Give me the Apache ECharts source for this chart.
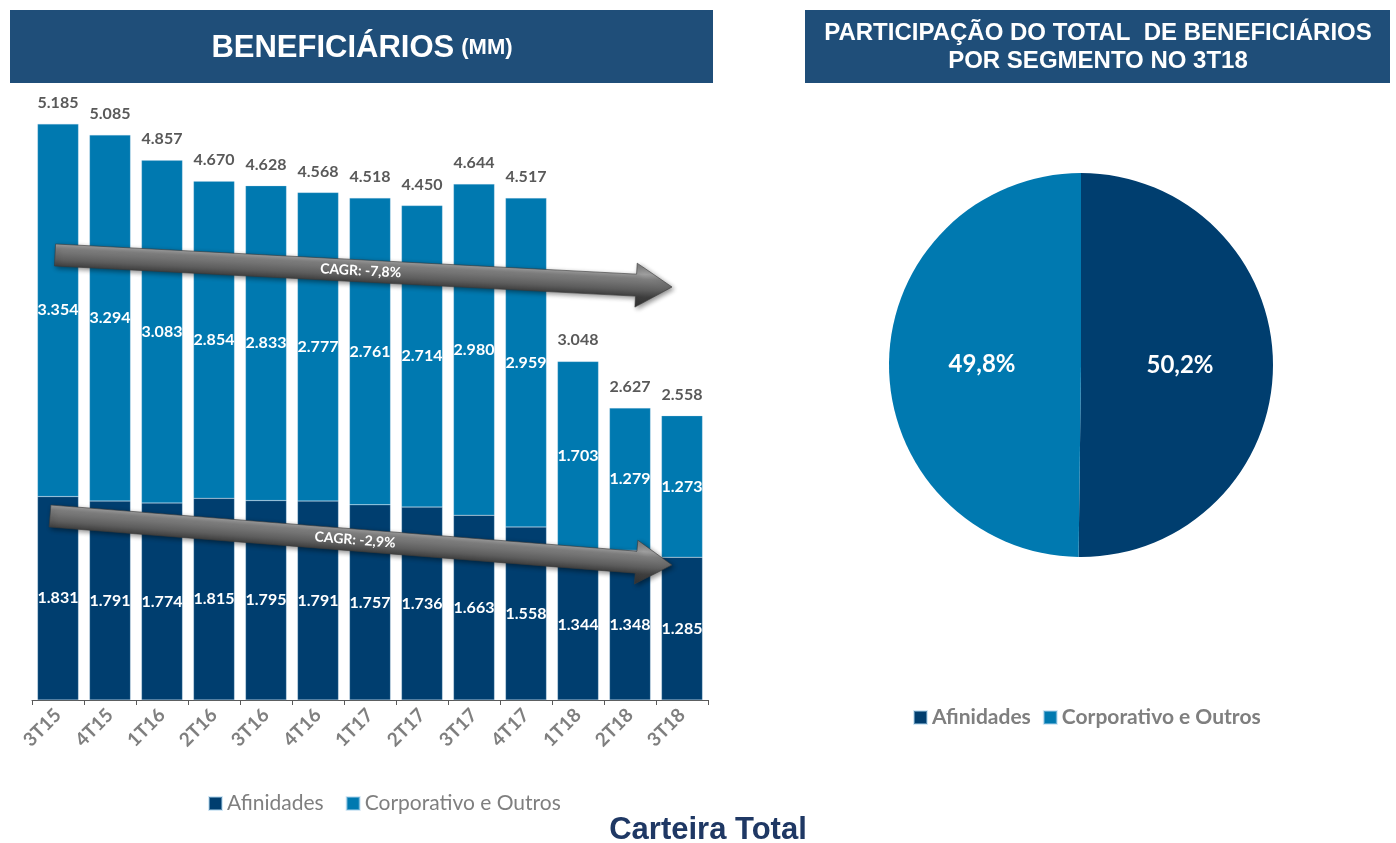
<!DOCTYPE html>
<html>
<head>
<meta charset="utf-8">
<script src="https://cdn.jsdelivr.net/npm/echarts@6/dist/echarts.min.js"></script>
<style>
html,body{margin:0;padding:0;background:#fff;}
#c{width:1396px;height:843px;}
</style>
</head>
<body>
<div id="c"></div>
<script>
const categories = ['3T15','4T15','1T16','2T16','3T16','4T16','1T17','2T17','3T17','4T17','1T18','2T18','3T18'];
const afinidades = [1.831,1.791,1.774,1.815,1.795,1.791,1.757,1.736,1.663,1.558,1.344,1.348,1.285];
const corporativo = [3.354,3.294,3.083,2.854,2.833,2.777,2.761,2.714,2.980,2.959,1.703,1.279,1.273];
const totals = [5.185,5.085,4.857,4.670,4.628,4.568,4.518,4.450,4.644,4.517,3.048,2.627,2.558];
const seriesNames = ['Afinidades','Corporativo e Outros'];
const pieShares = [50.2, 49.8];
const cagrLabels = ['CAGR: -7,8%','CAGR: -2,9%'];

const C_AF = '#003E6F';
const C_CO = '#0079B0';
const HEADER = '#1F4E79';
const FONT = 'Lato, "Open Sans", sans-serif';

const chart = echarts.init(document.getElementById('c'));

function arrow(x, y, len, ang, text) {
  const t = 11, hw = 22, hl = 36;
  const grad = new echarts.graphic.LinearGradient(0, 0, 0, 1, [
    {offset: 0, color: '#7a7a7a'},
    {offset: 0.25, color: '#a0a0a0'},
    {offset: 0.36, color: '#7e7e7e'},
    {offset: 0.6, color: '#5e5e5e'},
    {offset: 0.76, color: '#3e3e3e'},
    {offset: 1, color: '#333333'}
  ]);
  return {
    type: 'group', x: x, y: y, rotation: -ang, z: 100,
    children: [
      {type: 'polygon', z: 100,
       shape: {points: [[0,-t],[len-hl,-t],[len-hl,-hw],[len,0],[len-hl,hw],[len-hl,t],[0,t]]},
       style: {fill: grad, stroke: '#3a3a3a', lineWidth: 0.6,
               shadowBlur: 5, shadowColor: 'rgba(0,0,0,0.45)', shadowOffsetX: 2, shadowOffsetY: 2}},
      {type: 'text', x: 306, y: 0, z: 101,
       style: {text: text, fill: '#ffffff', font: 'bold 14px ' + FONT, align: 'center', verticalAlign: 'middle'}}
    ]
  };
}

const ax = (x1,y1,x2,y2) => [x1, y1, Math.hypot(x2-x1, y2-y1), Math.atan2(y2-y1, x2-x1)];
const a1 = ax(55,255,672,287);
const a2 = ax(50,516,672,565);

const option = {
  animation: false,
  legend: [
    {data: seriesNames, left: 203, top: 788, itemWidth: 13, itemHeight: 13, itemGap: 22,
     icon: 'rect', textStyle: {color: '#7f7f7f', fontSize: 21, fontFamily: FONT}},
    {data: seriesNames, left: 908, top: 702, itemWidth: 13, itemHeight: 13, itemGap: 12,
     icon: 'rect', textStyle: {color: '#7f7f7f', fontSize: 21, fontWeight: 'bold', fontFamily: FONT}}
  ],
  grid: {left: 32, right: 688, top: 100, bottom: 143, containLabel: false},
  xAxis: {
    type: 'category', data: categories,
    axisLine: {lineStyle: {color: '#595959', width: 1}},
    axisTick: {show: true, length: 5, lineStyle: {color: '#595959'}},
    axisLabel: {rotate: 45, color: '#7f7f7f', fontSize: 19, fontWeight: 'bold', fontFamily: FONT, margin: 12, interval: 0}
  },
  yAxis: {type: 'value', min: 0, max: 5.4, show: false, splitLine: {show: false}},
  series: [
    {name: seriesNames[0], type: 'bar', stack: 'a', data: afinidades, barWidth: 41,
     itemStyle: {color: C_AF, borderColor: 'rgba(170,210,235,0.5)', borderWidth: 0.5},
     label: {show: true, position: 'inside', color: '#fff', fontSize: 16, fontWeight: 'bold', fontFamily: FONT,
             formatter: p => p.value.toFixed(3)}},
    {name: seriesNames[1], type: 'bar', stack: 'a', data: corporativo, barWidth: 41,
     itemStyle: {color: C_CO, borderColor: 'rgba(170,210,235,0.5)', borderWidth: 0.5},
     label: {show: true, position: 'inside', color: '#fff', fontSize: 16, fontWeight: 'bold', fontFamily: FONT,
             formatter: p => p.value.toFixed(3)}},
    {name: 'Total', type: 'bar', data: totals, barWidth: 41, barGap: '-100%', silent: true, z: 1,
     itemStyle: {color: 'rgba(0,0,0,0)'},
     label: {show: true, position: 'top', distance: 13, color: '#595959', fontSize: 16, fontWeight: 'bold', fontFamily: FONT,
             formatter: p => p.value.toFixed(3)}},
    {name: 'Participação', type: 'pie', center: [1081, 365], radius: 192, startAngle: 90, clockwise: true,
     data: [{name: seriesNames[0], value: pieShares[0], itemStyle: {color: C_AF}},
            {name: seriesNames[1], value: pieShares[1], itemStyle: {color: C_CO}}],
     label: {show: true, position: 'inside', color: '#fff', fontSize: 24, fontWeight: 'bold', fontFamily: FONT,
             formatter: p => p.value.toFixed(1).replace('.', ',') + '%'},
     labelLine: {show: false},
     itemStyle: {borderColor: '#fff', borderWidth: 0}}
  ],
  graphic: [
    {type: 'rect', shape: {x: 10, y: 10, width: 703, height: 73}, style: {fill: HEADER}},
    {type: 'text', x: 362, y: 48,
     style: {text: '{a|BENEFICIÁRIOS}{s| }{b|(MM)}', align: 'center', verticalAlign: 'middle',
             rich: {a: {fill: '#fff', font: 'bold 31px "Liberation Sans", Arial, sans-serif'},
                    s: {fill: '#fff', font: 'bold 22px "Liberation Sans", Arial, sans-serif', width: 7},
                    b: {fill: '#fff', font: 'bold 22px "Liberation Sans", Arial, sans-serif'}}}},
    {type: 'rect', shape: {x: 805, y: 10, width: 585, height: 73}, style: {fill: HEADER}},
    {type: 'text', x: 1098, y: 47,
     style: {text: 'PARTICIPAÇÃO DO TOTAL  DE BENEFICIÁRIOS\nPOR SEGMENTO NO 3T18', align: 'center', verticalAlign: 'middle',
             fill: '#fff', font: 'bold 24px "Liberation Sans", Arial, sans-serif', lineHeight: 28}},
    {type: 'text', x: 708, y: 830,
     style: {text: 'Carteira Total', align: 'center', verticalAlign: 'middle', fill: '#1F3864',
             font: 'bold 31px "Liberation Sans", Arial, sans-serif'}},
    arrow(a1[0], a1[1], a1[2], a1[3], cagrLabels[0]),
    arrow(a2[0], a2[1], a2[2], a2[3], cagrLabels[1])
  ]
};
chart.setOption(option);
</script>
</body>
</html>
